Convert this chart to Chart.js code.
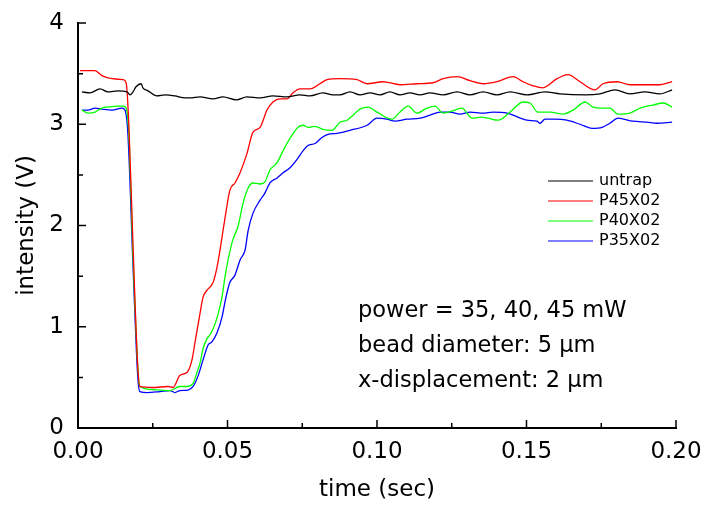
<!DOCTYPE html>
<html>
<head>
<meta charset="utf-8">
<script src="https://cdn.jsdelivr.net/npm/chart.js@4"></script>
<style>
  html, body { margin: 0; padding: 0; background: #fff; }
  #wrap { width: 701px; height: 507px; }
</style>
</head>
<body>
<div id="wrap"><canvas id="my-chart" width="701" height="507"></canvas></div>
<script>
// values (time in sec, intensity in V)
const untrapT = [0.0013,0.0040,0.0074,0.0100,0.0134,0.0164,0.0174,0.0184,0.0194,0.0211,0.0217,0.0234,0.0264,0.0291,0.0324,0.0358,0.0375,0.0408,0.0452,0.0485,0.0530,0.0565,0.0609,0.0652,0.0699,0.0742,0.0776,0.0819,0.0853,0.0876,0.0910,0.0943,0.0977,0.1010,0.1043,0.1077,0.1110,0.1144,0.1177,0.1221,0.1268,0.1311,0.1355,0.1401,0.1445,0.1502,0.1562,0.1612,0.1696,0.1746,0.1796,0.1846,0.1896,0.1946,0.1987];
const untrapV = [3.32,3.31,3.35,3.32,3.33,3.32,3.29,3.32,3.37,3.40,3.36,3.33,3.28,3.29,3.28,3.26,3.26,3.27,3.25,3.27,3.24,3.27,3.26,3.28,3.27,3.29,3.28,3.31,3.29,3.29,3.32,3.29,3.31,3.29,3.32,3.29,3.31,3.29,3.31,3.29,3.32,3.29,3.32,3.29,3.32,3.29,3.32,3.30,3.29,3.30,3.34,3.30,3.32,3.30,3.34];

const p45T = [0.0007,0.0057,0.0080,0.0114,0.0151,0.0161,0.0170,0.0184,0.0200,0.0207,0.0250,0.0300,0.0318,0.0341,0.0365,0.0381,0.0391,0.0408,0.0418,0.0431,0.0452,0.0465,0.0475,0.0492,0.0508,0.0525,0.0542,0.0565,0.0585,0.0609,0.0632,0.0652,0.0676,0.0699,0.0719,0.0742,0.0776,0.0809,0.0833,0.0876,0.0933,0.0967,0.1020,0.1077,0.1134,0.1187,0.1221,0.1268,0.1311,0.1355,0.1401,0.1455,0.1488,0.1522,0.1555,0.1602,0.1639,0.1679,0.1729,0.1756,0.1803,0.1846,0.1903,0.1946,0.1987];
const p45V = [3.53,3.53,3.48,3.45,3.44,3.41,3.00,1.80,0.60,0.41,0.40,0.41,0.40,0.52,0.55,0.67,0.84,1.13,1.29,1.36,1.44,1.59,1.76,2.08,2.35,2.42,2.52,2.71,2.92,2.97,3.14,3.22,3.25,3.25,3.31,3.35,3.35,3.40,3.44,3.45,3.44,3.40,3.42,3.39,3.40,3.41,3.45,3.47,3.43,3.40,3.42,3.47,3.42,3.38,3.36,3.45,3.49,3.42,3.34,3.40,3.42,3.39,3.39,3.39,3.42];

const p40T = [0.0013,0.0033,0.0057,0.0080,0.0100,0.0134,0.0151,0.0161,0.0170,0.0184,0.0200,0.0207,0.0251,0.0308,0.0341,0.0365,0.0385,0.0398,0.0408,0.0418,0.0431,0.0441,0.0452,0.0468,0.0482,0.0492,0.0502,0.0518,0.0535,0.0552,0.0569,0.0585,0.0609,0.0625,0.0642,0.0666,0.0686,0.0709,0.0736,0.0753,0.0769,0.0793,0.0819,0.0849,0.0876,0.0900,0.0920,0.0943,0.0970,0.1000,0.1050,0.1077,0.1104,0.1134,0.1167,0.1194,0.1221,0.1261,0.1284,0.1318,0.1351,0.1371,0.1405,0.1445,0.1488,0.1512,0.1538,0.1579,0.1622,0.1656,0.1696,0.1722,0.1746,0.1779,0.1806,0.1846,0.1880,0.1923,0.1957,0.1987];
const p40V = [3.14,3.11,3.12,3.16,3.17,3.18,3.18,3.16,2.90,1.70,0.60,0.41,0.38,0.37,0.41,0.41,0.44,0.55,0.64,0.78,0.88,0.92,0.98,1.12,1.30,1.50,1.66,1.86,1.99,2.22,2.37,2.42,2.41,2.43,2.55,2.62,2.74,2.86,2.97,2.99,2.97,2.98,2.95,2.94,3.02,3.04,3.09,3.15,3.17,3.12,3.05,3.12,3.18,3.11,3.16,3.18,3.11,3.14,3.16,3.06,3.07,3.06,3.04,3.12,3.22,3.21,3.12,3.12,3.10,3.14,3.22,3.17,3.16,3.16,3.10,3.11,3.16,3.19,3.21,3.17];

const p35T = [0.0013,0.0033,0.0057,0.0080,0.0114,0.0147,0.0157,0.0167,0.0184,0.0200,0.0207,0.0231,0.0274,0.0308,0.0324,0.0341,0.0368,0.0385,0.0401,0.0418,0.0435,0.0448,0.0465,0.0482,0.0492,0.0502,0.0508,0.0525,0.0542,0.0559,0.0569,0.0585,0.0609,0.0625,0.0642,0.0666,0.0686,0.0709,0.0732,0.0753,0.0769,0.0793,0.0816,0.0836,0.0866,0.0910,0.0967,0.1000,0.1033,0.1060,0.1100,0.1144,0.1177,0.1211,0.1244,0.1278,0.1311,0.1355,0.1388,0.1435,0.1455,0.1502,0.1535,0.1545,0.1562,0.1595,0.1635,0.1679,0.1719,0.1753,0.1779,0.1806,0.1856,0.1903,0.1936,0.1987];
const p35V = [3.14,3.14,3.16,3.15,3.14,3.16,3.14,2.90,1.60,0.50,0.36,0.35,0.36,0.37,0.35,0.37,0.375,0.41,0.51,0.67,0.82,0.85,0.94,1.10,1.25,1.38,1.44,1.51,1.66,1.76,1.95,2.12,2.25,2.32,2.42,2.47,2.52,2.57,2.65,2.74,2.79,2.81,2.87,2.90,2.91,2.94,2.99,3.06,3.05,3.03,3.05,3.06,3.09,3.12,3.12,3.10,3.12,3.11,3.12,3.11,3.09,3.04,3.03,3.01,3.05,3.05,3.04,3.00,2.96,2.97,3.01,3.06,3.03,3.02,3.01,3.02];

const seriesNames = ['untrap', 'P45X02', 'P40X02', 'P35X02'];
const seriesColors = ['#000000', '#ff0000', '#00ff00', '#0000ff'];
const xTicks = [0, 0.05, 0.10, 0.15, 0.20];
const yTicks = [0, 1, 2, 3, 4];
const noteLines = ['power = 35, 40, 45 mW', 'bead diameter: 5 \u03bcm', 'x-displacement: 2 \u03bcm'];

const FONT = "'DejaVu Sans', sans-serif";

function toPoints(ts, vs) {
    return ts.map((t, i) => ({ x: t, y: vs[i] }));
}

const allT = [untrapT, p45T, p40T, p35T];
const allV = [untrapV, p45V, p40V, p35V];

// inward ticks, legend and the note text
const extras = {
    id: 'extras',
    afterDraw(chart) {
        const ctx = chart.ctx;
        const area = chart.chartArea;
        const xs = chart.scales.x, ys = chart.scales.y;
        ctx.save();
        ctx.strokeStyle = '#000';
        ctx.lineWidth = 1.5;
        ctx.beginPath();
        for (let i = 0; i <= 8; i++) {
            const py = ys.getPixelForValue(i * 0.5);
            const len = i % 2 === 0 ? 8 : 5;
            ctx.moveTo(area.left, py);
            ctx.lineTo(area.left + len, py);
        }
        for (let i = 0; i <= 8; i++) {
            const px = xs.getPixelForValue(i * 0.025);
            const len = i % 2 === 0 ? 8 : 5;
            ctx.moveTo(px, area.bottom);
            ctx.lineTo(px, area.bottom - len);
        }
        ctx.stroke();

        // legend
        ctx.font = '16px ' + FONT;
        ctx.textBaseline = 'middle';
        ctx.textAlign = 'left';
        seriesNames.forEach((name, i) => {
            const yy = 181 + i * 20;
            ctx.strokeStyle = seriesColors[i];
            ctx.lineWidth = 1.2;
            ctx.beginPath();
            ctx.moveTo(548, yy);
            ctx.lineTo(593, yy);
            ctx.stroke();
            ctx.fillStyle = '#000';
            ctx.fillText(name, 599, yy);
        });

        // note
        ctx.font = '22.5px ' + FONT;
        noteLines.forEach((s, i) => {
            ctx.fillText(s, 358, 311 + i * 35);
        });
        ctx.restore();
    }
};

const ctx = document.getElementById('my-chart').getContext('2d');

const chart = new Chart(ctx, {
    type: 'line',
    data: {
        datasets: seriesNames.map((name, i) => ({
            label: name,
            data: toPoints(allT[i], allV[i]),
            borderColor: seriesColors[i],
            backgroundColor: seriesColors[i],
            borderWidth: 1.3,
            pointRadius: 0,
            fill: false,
            cubicInterpolationMode: 'monotone'
        }))
    },
    options: {
        responsive: false,
        animation: false,
        layout: { padding: { left: 0, right: 25, top: 23, bottom: 0 } },
        plugins: {
            legend: { display: false },
            tooltip: { enabled: false }
        },
        scales: {
            x: {
                type: 'linear',
                min: 0,
                max: 0.2,
                afterFit: s => { s.height = 79; s.paddingLeft = 0; s.paddingRight = 0; },
                afterBuildTicks: s => { s.ticks = xTicks.map(v => ({ value: v })); },
                grid: { display: false, drawTicks: false },
                border: { display: true, color: '#000', width: 2 },
                ticks: {
                    color: '#000',
                    padding: 10,
                    maxRotation: 0,
                    autoSkip: false,
                    font: { family: FONT, size: 23 },
                    callback: v => v.toFixed(2)
                },
                title: {
                    display: true,
                    text: 'time (sec)',
                    color: '#000',
                    padding: { top: 0, bottom: 3 },
                    font: { family: FONT, size: 23 }
                }
            },
            y: {
                min: 0,
                max: 4,
                afterFit: s => { s.width = 78; s.paddingTop = 0; s.paddingBottom = 0; },
                afterBuildTicks: s => { s.ticks = yTicks.map(v => ({ value: v })); },
                grid: { display: false, drawTicks: false },
                border: { display: true, color: '#000', width: 2 },
                ticks: {
                    color: '#000',
                    padding: 14,
                    font: { family: FONT, size: 23 },
                    callback: v => String(v)
                },
                title: {
                    display: true,
                    text: 'intensity (V)',
                    color: '#000',
                    padding: { top: 13, bottom: 0 },
                    font: { family: FONT, size: 23 }
                }
            }
        }
    },
    plugins: [extras]
});
</script>
</body>
</html>
